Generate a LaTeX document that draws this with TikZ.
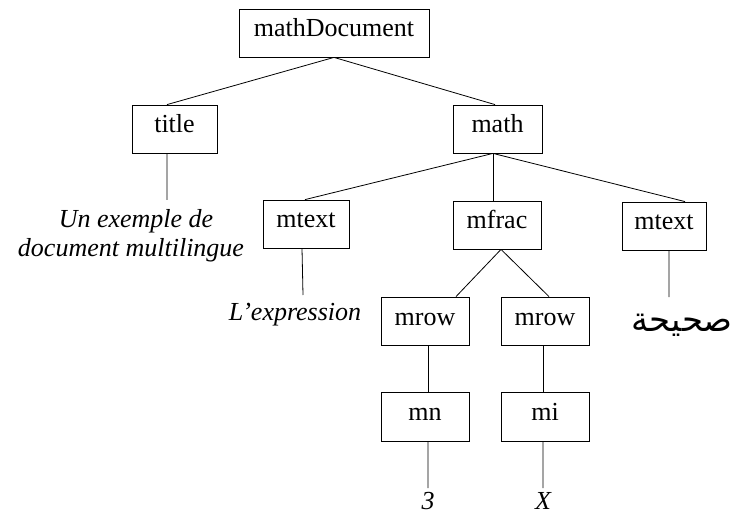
\documentclass[tikz,border=0pt]{standalone}
\usepackage{fontspec}
\setmainfont{Liberation Serif}
\newfontfamily\arabicfont[Script=Arabic]{DejaVu Sans}
\TeXXeTstate=1
\begin{document}
\begin{tikzpicture}[x=1bp,y=-1bp,
  every node/.style={font=\fontsize{26bp}{31bp}\selectfont},
  box/.style={draw, line width=0.8bp, minimum height=48bp, inner sep=0pt, text height=18bp, text depth=10bp},
  leaf/.style={inner sep=0pt, anchor=base, font=\fontsize{26bp}{31bp}\selectfont\itshape},
  edge/.style={line width=0.8bp}]
\useasboundingbox (0,0) rectangle (734,515);
% boxes
\node[box, minimum width=190bp] (doc) at (334,33) {mathDocument};
\node[box, minimum width=85bp] (title) at (174.5,129) {title};
\node[box, minimum width=89bp] (math) at (497.5,129) {math};
\node[box, minimum width=86bp] (mtl) at (306,224) {mtext};
\node[box, minimum width=88bp] (mfrac) at (497,225) {mfrac};
\node[box, minimum width=84bp] (mtr) at (664,226) {mtext};
\node[box, minimum width=88bp] (mrl) at (425,321) {mrow};
\node[box, minimum width=88bp] (mrr) at (545,321) {mrow};
\node[box, minimum width=88bp, minimum height=49bp] (mn) at (425,416.5) {mn};
\node[box, minimum width=88bp, minimum height=49bp] (mi) at (545,416.5) {mi};
% leaves
\node[leaf] (ex1) at (136,228) {Un exemple de};
\node[leaf] (ex2) at (131,257) {document multilingue};
\node[leaf] (expr) at (295,320) {L’expression};
\node[leaf] (three) at (428,509) {3};
\node[leaf] (xx) at (543,509) {X};
\node[inner sep=0pt, anchor=base east, font=\arabicfont\fontsize{34bp}{40bp}\selectfont] (ar) at (733,331) {\beginR صحيحة\endR};
% free ends
\coordinate (c1) at (167,200);
\coordinate (c2) at (303,295);
\coordinate (c3) at (669,297);
\coordinate (c4) at (428,488);
\coordinate (c5) at (543,488);
% connectors
\draw[edge] (doc.south) -- ([xshift=-7.5bp]title.north);
\draw[edge] (doc.south) -- ([xshift=-2.5bp]math.north);
\draw[edge] ([xshift=-4.5bp]math.south) -- ([xshift=-1bp]mtl.north);
\draw[edge] ([xshift=-4.5bp]math.south) -- ([xshift=-4bp]mfrac.north);
\draw[edge] ([xshift=-4.5bp]math.south) -- ([xshift=21bp]mtr.north);
\draw[edge] ([xshift=-7.5bp]title.south) -- (c1);
\draw[edge] ([xshift=-4bp]mtl.south) -- (c2);
\draw[edge] ([xshift=5bp]mtr.south) -- (c3);
\draw[edge] ([xshift=4bp]mfrac.south) -- ([xshift=31bp]mrl.north);
\draw[edge] ([xshift=4bp]mfrac.south) -- ([xshift=4bp]mrr.north);
\draw[edge] ([xshift=3bp]mrl.south) -- ([xshift=3bp]mn.north);
\draw[edge] ([xshift=-2bp]mrr.south) -- ([xshift=-2bp]mi.north);
\draw[edge] ([xshift=3bp]mn.south) -- (c4);
\draw[edge] ([xshift=-2bp]mi.south) -- (c5);
\end{tikzpicture}
\end{document}
